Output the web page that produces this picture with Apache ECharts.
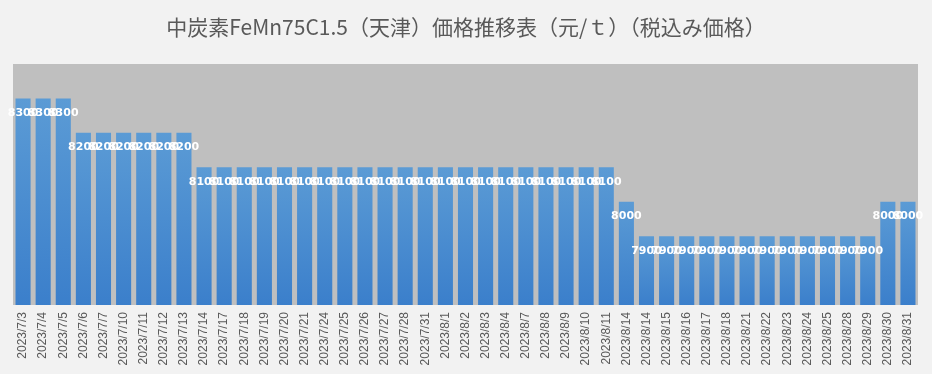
<!DOCTYPE html>
<html><head><meta charset="utf-8">
<script src="https://cdn.jsdelivr.net/npm/echarts@6/dist/echarts.min.js"></script>
<style>html,body{margin:0;padding:0;background:#f2f2f2;}#c{width:932px;height:374px;}</style>
</head><body><div id="c"></div>
<script>
const titleText = '中炭素FeMn75C1.5（天津）価格推移表（元/ｔ）（税込み価格）';
const categories = ['2023/7/3','2023/7/4','2023/7/5','2023/7/6','2023/7/7','2023/7/10','2023/7/11','2023/7/12','2023/7/13','2023/7/14','2023/7/17','2023/7/18','2023/7/19','2023/7/20','2023/7/21','2023/7/24','2023/7/25','2023/7/26','2023/7/27','2023/7/28','2023/7/31','2023/8/1','2023/8/2','2023/8/3','2023/8/4','2023/8/7','2023/8/8','2023/8/9','2023/8/10','2023/8/11','2023/8/14','2023/8/14','2023/8/15','2023/8/16','2023/8/17','2023/8/18','2023/8/21','2023/8/22','2023/8/23','2023/8/24','2023/8/25','2023/8/28','2023/8/29','2023/8/30','2023/8/31'];
const prices = [8300,8300,8300,8200,8200,8200,8200,8200,8200,8100,8100,8100,8100,8100,8100,8100,8100,8100,8100,8100,8100,8100,8100,8100,8100,8100,8100,8100,8100,8100,8000,7900,7900,7900,7900,7900,7900,7900,7900,7900,7900,7900,7900,8000,8000];
const yMin = 7700, yMax = 8400;

const chart = echarts.init(document.getElementById('c'), null, {renderer:'canvas'});
chart.setOption({
  backgroundColor:'#f2f2f2',
  animation:false,
  title:{text:titleText,left:'center',top:12,textStyle:{fontFamily:'"Noto Sans CJK JP"',fontSize:21,fontWeight:'normal',color:'#595959'}},
  grid:{left:13,right:14,top:64,bottom:69,show:true,backgroundColor:'#bfbfbf',borderWidth:0},
  xAxis:{type:'category',data:categories,
    axisLine:{show:false},axisTick:{show:false},
    axisLabel:{rotate:90,interval:0,margin:7,fontSize:12,color:'#595959',fontFamily:'"Liberation Sans", Arial'}},
  yAxis:{type:'value',min:yMin,max:yMax,show:false,splitLine:{show:false}},
  series:[{type:'bar',data:prices,barCategoryGap:'25%',
    itemStyle:{color:new echarts.graphic.LinearGradient(0,0,0,1,[{offset:0,color:'#5b9bd5'},{offset:1,color:'#3b7fcb'}])},
    label:{show:true,position:'insideTop',distance:9,color:'#ffffff',fontWeight:'bold',fontSize:11,fontFamily:'"DejaVu Sans"'}}]
});
</script></body></html>
